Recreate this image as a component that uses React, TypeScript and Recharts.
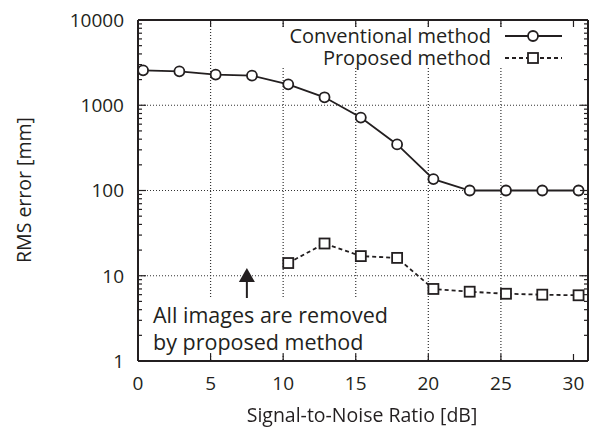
import { LineChart, Line, XAxis, YAxis, CartesianGrid, ReferenceDot } from 'recharts';

// SNR [dB] of each measurement
const snr = [0.35, 2.85, 5.35, 7.85, 10.35, 12.85, 15.35, 17.85, 20.35, 22.85, 25.35, 27.85, 30.35];
// RMS error [mm]
const conventional = [2570, 2500, 2290, 2230, 1760, 1240, 717, 347, 136, 100, 100, 100, 100];
const proposed = [null, null, null, null, 14.1, 23.9, 17.0, 16.2, 7.0, 6.5, 6.15, 6.0, 5.9];

const xTicks = [0, 5, 10, 15, 20, 25, 30];
const xGrid = [5, 10, 15, 20, 25];
const yMajor = [1, 10, 100, 1000, 10000];
const yGrid = [10, 100, 1000];
const yTicks = [
  1, 2, 3, 4, 5, 6, 7, 8, 9,
  10, 20, 30, 40, 50, 60, 70, 80, 90,
  100, 200, 300, 400, 500, 600, 700, 800, 900,
  1000, 2000, 3000, 4000, 5000, 6000, 7000, 8000, 9000,
  10000,
];

const INK = '#231f20';
const FONT = '"Open Sans", "Noto Sans", sans-serif';

const data = snr.map((x, i) => ({
  snr: x,
  conventional: conventional[i],
  proposed: proposed[i],
}));

const LeftTick = ({ x, y, payload }: any) => {
  const major = yMajor.includes(payload.value);
  return (
    <g>
      <line x1={x} x2={x + (major ? 8 : 4)} y1={y} y2={y} stroke={INK} strokeWidth={1.2} />
      {major && (
        <text x={x - 14} y={y} dy="0.36em" textAnchor="end" fill={INK} fontSize={19} fontFamily={FONT}>
          {payload.value}
        </text>
      )}
    </g>
  );
};

const RightTick = ({ x, y, payload }: any) => {
  const major = yMajor.includes(payload.value);
  return <line x1={x} x2={x - (major ? 8 : 4)} y1={y} y2={y} stroke={INK} strokeWidth={1.2} />;
};

const BottomTick = ({ x, y, payload }: any) => (
  <g>
    <line x1={x} x2={x} y1={y} y2={y - 7} stroke={INK} strokeWidth={1.2} />
    <text x={x} y={y + 22} dy="0.36em" textAnchor="middle" fill={INK} fontSize={19} fontFamily={FONT}>
      {payload.value}
    </text>
  </g>
);

const TopTick = ({ x, y }: any) => (
  <line x1={x} x2={x} y1={y} y2={y + 7} stroke={INK} strokeWidth={1.2} />
);

const Circle = ({ cx, cy }: any) =>
  cx == null || cy == null ? null : (
    <circle cx={cx} cy={cy} r={5} fill="#fff" stroke={INK} strokeWidth={1.8} />
  );

const Square = ({ cx, cy }: any) =>
  cx == null || cy == null ? null : (
    <rect x={cx - 5} y={cy - 5} width={10} height={10} fill="#fff" stroke={INK} strokeWidth={1.8} />
  );

const Arrow = ({ cx, cy }: any) => (
  <g>
    <path d={`M${cx},${cy} L${cx + 8},${cy + 14} L${cx - 8},${cy + 14} Z`} fill={INK} />
    <line x1={cx} x2={cx} y1={cy + 13} y2={cy + 30} stroke={INK} strokeWidth={2} />
  </g>
);

export default function App() {
  return (
    <div style={{ position: 'fixed', left: 0, top: 0, width: 593, height: 427, background: '#fff', fontFamily: FONT, color: INK }}>
      <LineChart width={593} height={427} data={data} margin={{ top: 19, right: 4, bottom: 0, left: 0 }}>
        <CartesianGrid
          horizontalValues={yGrid}
          verticalValues={xGrid}
          stroke="#333"
          strokeDasharray="1 2"
          strokeWidth={1.2}
        />
        <XAxis
          dataKey="snr"
          type="number"
          domain={[0, 31]}
          ticks={xTicks}
          allowDataOverflow
          height={66}
          tickSize={0}
          tickMargin={0}
          tickLine={false}
          tick={<BottomTick />}
          axisLine={{ stroke: INK, strokeWidth: 2 }}
        />
        <XAxis
          xAxisId="top"
          orientation="top"
          dataKey="snr"
          type="number"
          domain={[0, 31]}
          ticks={xTicks}
          allowDataOverflow
          height={1}
          tickSize={0}
          tickMargin={0}
          tickLine={false}
          tick={<TopTick />}
          axisLine={{ stroke: INK, strokeWidth: 2 }}
        />
        <YAxis
          type="number"
          scale="log"
          domain={[1, 10000]}
          ticks={yTicks}
          allowDataOverflow
          width={138}
          tickSize={0}
          tickMargin={0}
          tickLine={false}
          tick={<LeftTick />}
          axisLine={{ stroke: INK, strokeWidth: 2 }}
          interval={0}
        />
        <YAxis
          yAxisId="right"
          orientation="right"
          type="number"
          scale="log"
          domain={[1, 10000]}
          ticks={yTicks}
          allowDataOverflow
          width={1}
          tickSize={0}
          tickMargin={0}
          tickLine={false}
          tick={<RightTick />}
          axisLine={{ stroke: INK, strokeWidth: 2 }}
          interval={0}
        />
        <Line
          dataKey="conventional"
          stroke={INK}
          strokeWidth={1.8}
          dot={<Circle />}
          activeDot={false}
          isAnimationActive={false}
        />
        <Line
          dataKey="proposed"
          stroke={INK}
          strokeWidth={1.8}
          strokeDasharray="4 3"
          dot={<Square />}
          activeDot={false}
          isAnimationActive={false}
        />
        <ReferenceDot x={7.5} y={12.3} r={0} shape={<Arrow />} />
      </LineChart>

      {/* key, boxed over the grid */}
      <div style={{ position: 'absolute', left: 278, top: 28, width: 302, height: 40, background: '#fff' }}>
        <div style={{ position: 'absolute', right: 302 - 213, top: -2, fontSize: 20, lineHeight: '20px', height: 20, whiteSpace: 'nowrap' }}>
          Conventional method
        </div>
        <div style={{ position: 'absolute', right: 302 - 213, top: 20, fontSize: 20, lineHeight: '20px', height: 20, whiteSpace: 'nowrap' }}>
          Proposed method
        </div>
        <svg style={{ position: 'absolute', left: 0, top: 0 }} width={302} height={40}>
          <line x1={227} x2={284} y1={8} y2={8} stroke={INK} strokeWidth={1.8} />
          <circle cx={255} cy={8} r={5} fill="#fff" stroke={INK} strokeWidth={1.8} />
          <line x1={227} x2={284} y1={30} y2={30} stroke={INK} strokeWidth={1.8} strokeDasharray="4 3" />
          <rect x={250} y={25} width={10} height={10} fill="#fff" stroke={INK} strokeWidth={1.8} />
        </svg>
      </div>

      {/* annotation under the arrow */}
      <div style={{ position: 'absolute', left: 150, top: 298, width: 245, height: 55, background: '#fff' }}>
        <div style={{ position: 'absolute', left: 3, top: 3, fontSize: 21.5, lineHeight: '27px', whiteSpace: 'nowrap' }}>
          All images are removed
          <br />
          by proposed method
        </div>
      </div>

      <div style={{ position: 'absolute', left: 0, width: 724, top: 403, textAlign: 'center', fontSize: 19.5, lineHeight: '24px', whiteSpace: 'nowrap' }}>
        Signal-to-Noise Ratio [dB]
      </div>
      <div
        style={{
          position: 'absolute',
          left: 24,
          top: 190,
          transform: 'translate(-50%, -50%) rotate(-90deg)',
          fontSize: 19.5,
          lineHeight: '24px',
          whiteSpace: 'nowrap',
        }}
      >
        RMS error [mm]
      </div>
    </div>
  );
}
